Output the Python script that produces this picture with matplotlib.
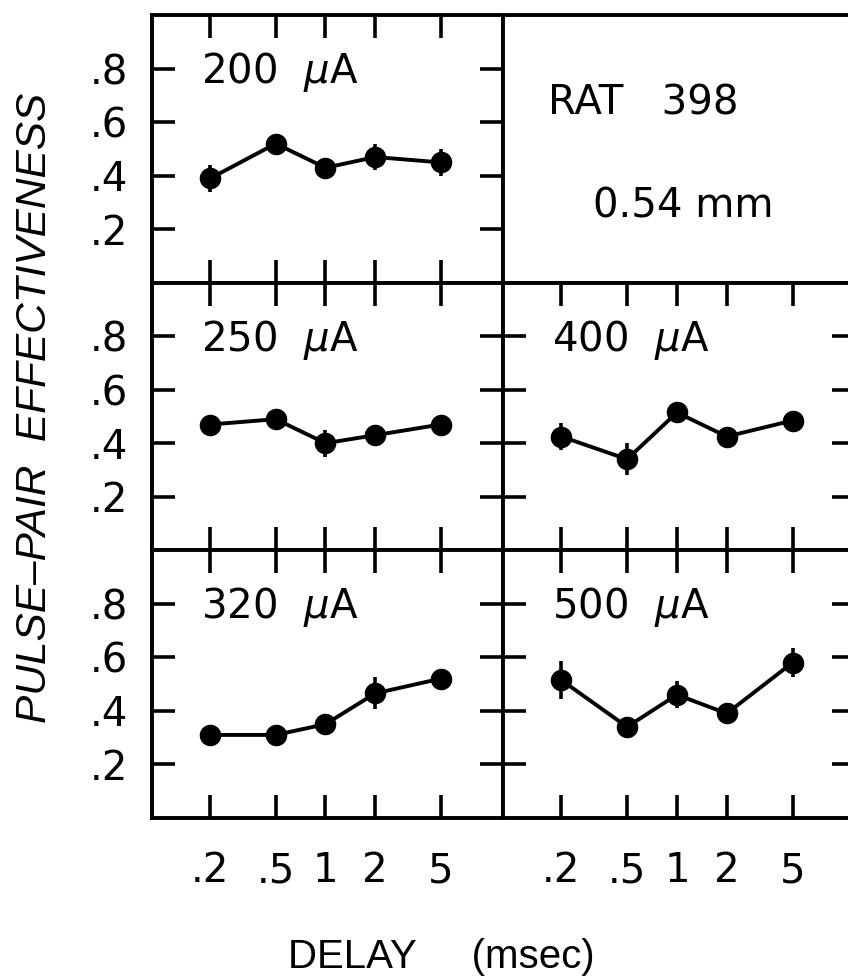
import matplotlib
matplotlib.use('Agg')
import matplotlib.pyplot as plt
from matplotlib.ticker import NullLocator

plt.rcParams['font.family'] = ['DejaVu Sans']
plt.rcParams['mathtext.fontset'] = 'dejavusans'

# delays (msec) and tick labels
delays = [0.2, 0.5, 1, 2, 5]
x_labels = ['.2', '.5', '1', '2', '5']
y_ticks = [0.2, 0.4, 0.6, 0.8]
y_labels = ['.2', '.4', '.6', '.8']

# pulse-pair effectiveness per current (uA)
eff_200 = [0.39, 0.52, 0.43, 0.47, 0.45]
eff_250 = [0.47, 0.49, 0.40, 0.43, 0.47]
eff_320 = [0.31, 0.31, 0.35, 0.465, 0.52]
eff_400 = [0.425, 0.34, 0.515, 0.425, 0.485]
eff_500 = [0.515, 0.34, 0.46, 0.39, 0.58]

err_200 = [0.05, 0.03, 0.02, 0.05, 0.05]
err_250 = [0.02, 0.02, 0.05, 0.02, 0.02]
err_320 = [0.02, 0.02, 0.02, 0.06, 0.02]
err_400 = [0.05, 0.06, 0.02, 0.03, 0.02]
err_500 = [0.07, 0.02, 0.05, 0.02, 0.055]

W, H = 848, 977
fig = plt.figure(figsize=(W / 100, H / 100), dpi=100)

col_x = [152, 503]
col_w = [351, 352]
row_edges = [15, 283, 550, 818]

lw = 2.8


def make_axes(row, col):
    x0 = col_x[col] / W
    w = col_w[col] / W
    top = row_edges[row]
    bot = row_edges[row + 1]
    ax = fig.add_axes([x0, 1 - bot / H, w, (bot - top) / H])
    for s in ax.spines.values():
        s.set_linewidth(lw)
    return ax


def panel(ax, y, err, label, show_x, show_y):
    ax.errorbar(delays, y, yerr=err, color='black', lw=2.8, marker='o',
                ms=14.5, elinewidth=2.6, capsize=0)
    ax.set_xscale('log')
    ax.set_xlim(0.089, 11.9)
    ax.set_ylim(0, 1.0)
    ax.xaxis.set_minor_locator(NullLocator())
    ax.set_xticks(delays, labels=x_labels)
    ax.set_yticks(y_ticks, labels=y_labels)
    ax.tick_params(direction='in', length=16.5, width=2.6, top=True,
                   right=True, labelsize=29)
    ax.tick_params(axis='x', pad=24, labelbottom=show_x)
    ax.tick_params(axis='y', pad=17, labelleft=show_y)
    ax.text(0.14, 0.745, label + r'  $\mu$A', transform=ax.transAxes,
            fontsize=29, va='baseline', ha='left')


ax = make_axes(0, 0)
panel(ax, eff_200, err_200, '200', False, True)

ax = make_axes(0, 1)
ax.set_xticks([])
ax.set_yticks([])
ax.text(0.128, 0.627, 'RAT   398', transform=ax.transAxes, fontsize=29,
        va='baseline', ha='left')
ax.text(0.256, 0.243, '0.54 mm', transform=ax.transAxes, fontsize=29,
        va='baseline', ha='left')

ax = make_axes(1, 0)
panel(ax, eff_250, err_250, '250', False, True)
ax = make_axes(1, 1)
panel(ax, eff_400, err_400, '400', False, False)
ax = make_axes(2, 0)
panel(ax, eff_320, err_320, '320', True, True)
ax = make_axes(2, 1)
panel(ax, eff_500, err_500, '500', True, False)

fig.text(35 / W, 1 - 408 / H, 'PULSE\u2013PAIR  EFFECTIVENESS', rotation=90,
         fontsize=30.5, style='italic', ha='center', va='center',
         family='Liberation Sans')
fig.text(441 / W, 1 - 968 / H, 'DELAY     (msec)', fontsize=29,
         ha='center', va='baseline', family='Liberation Sans')

fig.savefig('out.png', dpi=100, facecolor='white')
